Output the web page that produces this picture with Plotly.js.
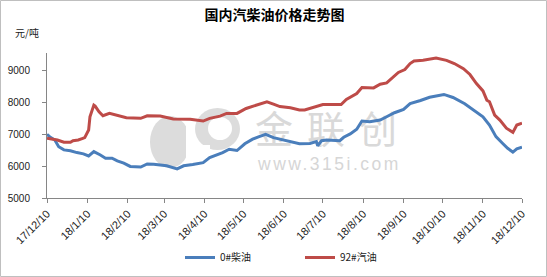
<!DOCTYPE html>
<html><head><meta charset="utf-8">
<script src="https://cdn.plot.ly/plotly-3.0.1.min.js"></script>
<style>
html,body{margin:0;padding:0;background:#fff;}
#wrap{position:relative;width:547px;height:277px;overflow:hidden;background:#fff;}
#chart{position:absolute;left:0;top:0;width:547px;height:277px;}
.wm{position:absolute;white-space:nowrap;line-height:1;}
</style></head><body>
<div id="wrap">
<div class="wm" style="left:255px;top:108px;font-family:'Noto Sans CJK SC';font-size:38px;color:#d9d9d9;letter-spacing:14px;">金联创</div>
<div class="wm" style="left:258px;top:156px;font-family:'Liberation Sans';font-size:17.5px;color:#d6d6d6;letter-spacing:2.5px;">www.315i.com</div>
<div id="chart"></div>
</div>
<script>
var dieselDates = ['2017-12-10','2017-12-12','2017-12-16','2017-12-19','2017-12-23','2017-12-28','2018-01-02','2018-01-07','2018-01-11','2018-01-15','2018-01-20','2018-01-24','2018-01-29','2018-02-02','2018-02-07','2018-02-12','2018-02-20','2018-02-25','2018-03-02','2018-03-07','2018-03-12','2018-03-20','2018-03-25','2018-04-01','2018-04-09','2018-04-14','2018-04-20','2018-04-24','2018-04-29','2018-05-05','2018-05-11','2018-05-17','2018-05-22','2018-05-27','2018-06-02','2018-06-09','2018-06-15','2018-06-22','2018-06-30','2018-07-05','2018-07-06','2018-07-09','2018-07-13','2018-07-23','2018-07-26','2018-07-31','2018-08-05','2018-08-09','2018-08-15','2018-08-23','2018-08-28','2018-09-03','2018-09-10','2018-09-15','2018-09-23','2018-09-30','2018-10-11','2018-10-18','2018-10-27','2018-11-03','2018-11-10','2018-11-15','2018-11-20','2018-11-25','2018-11-29','2018-12-03','2018-12-06','2018-12-10'];
var dieselValues = [7000,6925,6820,6610,6510,6480,6425,6385,6320,6455,6350,6250,6250,6165,6095,5990,5970,6070,6060,6040,6010,5915,6010,6050,6110,6270,6350,6425,6530,6490,6700,6845,6925,7000,6895,6830,6770,6700,6710,6770,6635,6800,6820,6800,6905,7010,7155,7415,7395,7445,7550,7675,7780,7960,8060,8160,8250,8155,7960,7760,7550,7290,6925,6720,6560,6440,6540,6595];
var gasolineDates = ['2017-12-10','2017-12-18','2017-12-23','2017-12-28','2017-12-30','2018-01-03','2018-01-06','2018-01-08','2018-01-11','2018-01-12','2018-01-15','2018-01-16','2018-01-19','2018-01-22','2018-01-27','2018-02-02','2018-02-09','2018-02-20','2018-02-25','2018-03-07','2018-03-17','2018-03-30','2018-04-09','2018-04-14','2018-04-22','2018-04-27','2018-05-05','2018-05-12','2018-05-21','2018-05-28','2018-06-02','2018-06-07','2018-06-15','2018-06-22','2018-06-26','2018-07-02','2018-07-10','2018-07-24','2018-07-28','2018-08-05','2018-08-09','2018-08-18','2018-08-23','2018-08-28','2018-09-02','2018-09-06','2018-09-11','2018-09-15','2018-09-18','2018-09-25','2018-10-05','2018-10-13','2018-10-19','2018-10-26','2018-10-31','2018-11-05','2018-11-10','2018-11-13','2018-11-15','2018-11-19','2018-11-23','2018-11-28','2018-12-03','2018-12-06','2018-12-10'];
var gasolineValues = [6875,6820,6750,6750,6800,6820,6865,6895,7135,7550,7915,7885,7705,7580,7655,7600,7520,7500,7580,7570,7480,7470,7415,7500,7570,7655,7655,7810,7915,8020,7945,7870,7830,7760,7760,7845,7935,7935,8095,8280,8470,8455,8570,8610,8800,8940,9030,9220,9300,9320,9395,9320,9220,9060,8875,8590,8360,8070,8020,7600,7445,7190,7060,7290,7345];
var tickDates = ['2017-12-10','2018-01-10','2018-02-10','2018-03-10','2018-04-10','2018-05-10','2018-06-10','2018-07-10','2018-08-10','2018-09-10','2018-10-10','2018-11-10','2018-12-10'];
var tickLabels = ['17/12/10','18/1/10','18/2/10','18/3/10','18/4/10','18/5/10','18/6/10','18/7/10','18/8/10','18/9/10','18/10/10','18/11/10','18/12/10'];
var yTicks = [5000,6000,7000,8000,9000];
var seriesNames = ['0#柴油','92#汽油'];
var titleText = '国内汽柴油价格走势图';
var unitText = '元/吨';

// layout geometry (pixels)
var W = 547, H = 277, L = 47, R = 25, T = 53, B = 79;
var pw = W - L - R, ph = H - T - B;
function px(x){ return (x - L) / pw; }
function py(y){ return (H - B - y) / ph; }

var numFont = 'Liberation Sans, Arial, sans-serif';
var cjkFont = 'Noto Sans CJK SC, Liberation Sans, sans-serif';
var axisCol = '#868686';

var traces = [
  {x: dieselDates, y: dieselValues, name: seriesNames[0], type: 'scatter', mode: 'lines',
   line: {color: '#4a7ebb', width: 3}},
  {x: gasolineDates, y: gasolineValues, name: seriesNames[1], type: 'scatter', mode: 'lines',
   line: {color: '#be4b48', width: 3}}
];

var layout = {
  width: W, height: H,
  margin: {l: L, r: R, t: T, b: B, pad: 0, autoexpand: false},
  paper_bgcolor: 'rgba(0,0,0,0)', plot_bgcolor: 'rgba(0,0,0,0)',
  showlegend: true,
  title: {text: '<b>' + titleText + '</b>', font: {family: cjkFont, size: 14, color: '#000'},
          x: 274.5 / W, xref: 'container', xanchor: 'center', y: 1 - 15 / H, yref: 'container', yanchor: 'middle'},
  xaxis: {type: 'date', range: ['2017-12-10', '2018-12-10'], tickmode: 'array', tickvals: tickDates, ticktext: tickLabels,
          tickangle: -45, ticks: 'outside', ticklen: 4, tickcolor: axisCol, showline: true, linecolor: axisCol, linewidth: 1,
          showgrid: false, zeroline: false, automargin: false, tickfont: {family: numFont, size: 11, color: '#222'}, fixedrange: true},
  yaxis: {range: [5000, 9550], tickmode: 'array', tickvals: yTicks, tickformat: 'd', ticks: 'outside', ticklen: 4,
          tickcolor: axisCol, showline: true, linecolor: axisCol, linewidth: 1, showgrid: false, zeroline: false, automargin: false,
          ticklabelstandoff: 10, tickfont: {family: numFont, size: 10, color: '#222'}, fixedrange: true},
  legend: {orientation: 'h', xref: 'container', yref: 'container', x: 180 / W, xanchor: 'left', y: 1 - 243 / H, yanchor: 'top',
           entrywidth: 75, entrywidthmode: 'pixels',
           font: {family: cjkFont, size: 10, color: '#222'}, bgcolor: 'rgba(0,0,0,0)', borderwidth: 0},
  annotations: [
    {text: unitText, xref: 'paper', yref: 'paper', x: px(26.5), y: py(33), xanchor: 'center', yanchor: 'middle',
     showarrow: false, font: {family: cjkFont, size: 10, color: '#222'}}
  ],
  shapes: [
    // outer chart border
    {type: 'rect', xref: 'paper', yref: 'paper', x0: px(0.5), x1: px(546.5), y0: py(276.5), y1: py(0.5),
     line: {color: '#bfbfbf', width: 1}, fillcolor: 'rgba(0,0,0,0)', layer: 'below'},
    // watermark logo (approximate)
    {type: 'circle', xref: 'paper', yref: 'paper', x0: px(150), x1: px(190), y0: py(168), y1: py(116),
     line: {width: 0}, fillcolor: '#dcdcdc', layer: 'below'},
    {type: 'circle', xref: 'paper', yref: 'paper', x0: px(195), x1: px(240), y0: py(150), y1: py(108),
     line: {width: 0}, fillcolor: '#dcdcdc', layer: 'below'},
    {type: 'circle', xref: 'paper', yref: 'paper', x0: px(208), x1: px(232), y0: py(140), y1: py(117),
     line: {width: 0}, fillcolor: '#ffffff', layer: 'below'},
    {type: 'line', xref: 'paper', yref: 'paper', x0: px(188), x1: px(188), y0: py(165), y1: py(112),
     line: {width: 4, color: '#ffffff'}, layer: 'below'},
    {type: 'line', xref: 'paper', yref: 'paper', x0: px(188), x1: px(210), y0: py(147), y1: py(147),
     line: {width: 4, color: '#ffffff'}, layer: 'below'}
  ]
};

Plotly.newPlot('chart', traces, layout, {displayModeBar: false, staticPlot: true});
</script>
</body></html>
